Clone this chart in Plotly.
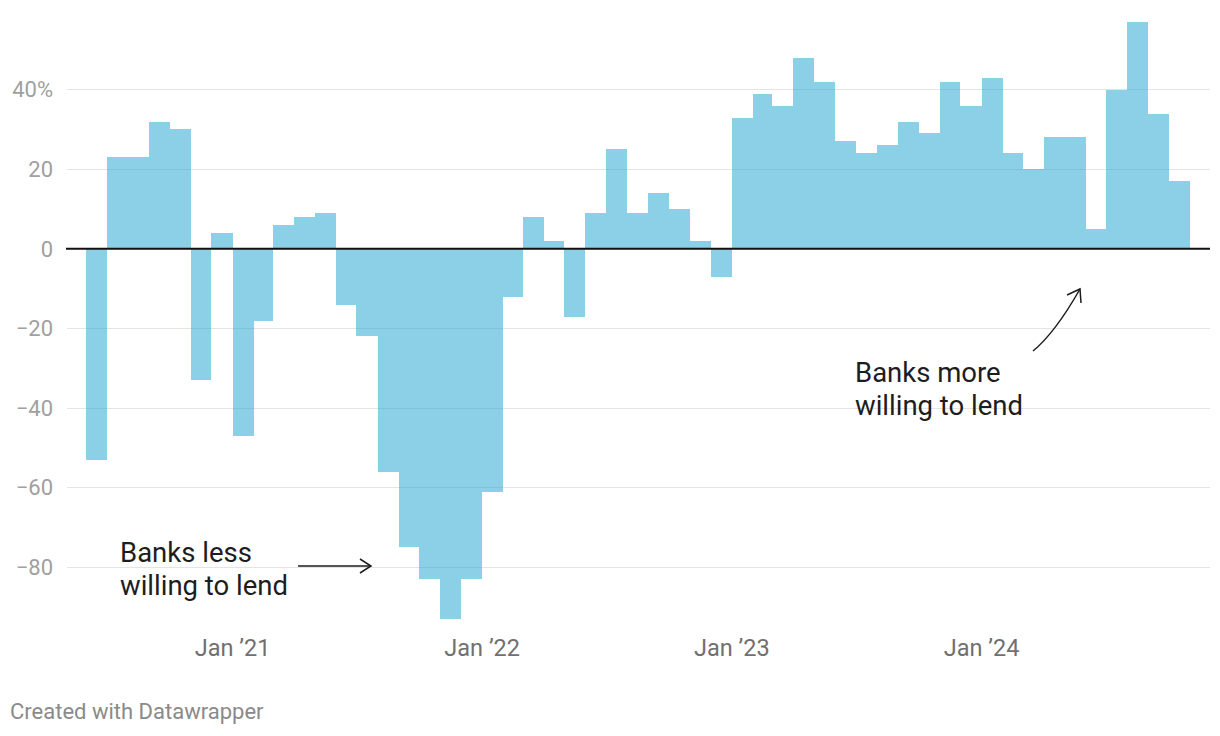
import plotly.graph_objects as go
import pandas as pd

# ---- data ----
months = [
    "2020-06", "2020-07", "2020-08", "2020-09", "2020-10", "2020-11", "2020-12",
    "2021-01", "2021-02", "2021-03", "2021-04", "2021-05", "2021-06", "2021-07",
    "2021-08", "2021-09", "2021-10", "2021-11", "2021-12", "2022-01", "2022-02",
    "2022-03", "2022-04", "2022-05", "2022-06", "2022-07", "2022-08", "2022-09",
    "2022-10", "2022-11", "2022-12", "2023-01", "2023-02", "2023-03", "2023-04",
    "2023-05", "2023-06", "2023-07", "2023-08", "2023-09", "2023-10", "2023-11",
    "2023-12", "2024-01", "2024-02", "2024-03", "2024-04", "2024-05", "2024-06",
    "2024-07", "2024-08", "2024-09", "2024-10",
]
values = [
    -53, 23, 23, 32, 30, -33, 4,
    -47, -18, 6, 8, 9, -14, -22,
    -56, -75, -83, -93, -83, -61, -12,
    8, 2, -17, 9, 25, 9, 14,
    10, 2, -7, 33, 39, 36, 48,
    42, 27, 24, 26, 32, 29, 42,
    36, 43, 24, 20, 28, 28, 5,
    40, 57, 34, 17,
]
y_tick_vals = [-80, -60, -40, -20, 0, 20, 40]
y_tick_text = ["\u221280", "\u221260", "\u221240", "\u221220", "0", "20", "40%"]
x_tick_vals = ["2021-01-01", "2022-01-01", "2023-01-01", "2024-01-01"]
x_tick_text = ["Jan \u201921", "Jan \u201922", "Jan \u201923", "Jan \u201924"]
label_less = ["Banks less", "willing to lend"]
label_more = ["Banks more", "willing to lend"]
footer = "Created with Datawrapper"

# ---- geometry helpers (bars span whole months) ----
starts = pd.to_datetime([m + "-01" for m in months])
ends = starts + pd.offsets.MonthBegin(1)
mids = starts + (ends - starts) / 2
widths = [(e - s).total_seconds() * 1000 for s, e in zip(starts, ends)]

W, H = 1220, 736
L, R, T, B = 67, 10, 22, 117
PW, PH = W - L - R, H - T - B


def px(x):
    return (x - L) / PW


def py(y):
    return (H - B - y) / PH


FONT = "Roboto, Arial, sans-serif"

fig = go.Figure()
fig.add_trace(go.Bar(
    x=mids, y=values, width=widths,
    marker=dict(color="rgba(24,161,205,0.5)",
                line=dict(color="rgba(255,255,255,0)", width=0)),
    hoverinfo="x+y",
))

ink = "#1d1d1d"
shapes = [
    dict(type="line", xref="paper", yref="y", x0=px(66), x1=1, y0=0, y1=0,
         line=dict(color="#111111", width=2), layer="above"),
    # straight arrow
    dict(type="line", xref="paper", yref="paper", x0=px(298), y0=py(566), x1=px(371), y1=py(566),
         line=dict(color=ink, width=1.5)),
    dict(type="path", xref="paper", yref="paper",
         path=f"M {px(360)} {py(559)} L {px(371)} {py(566)} L {px(360)} {py(573)}",
         line=dict(color=ink, width=1.5)),
    # curved arrow
    dict(type="path", xref="paper", yref="paper",
         path=f"M {px(1033)} {py(351)} Q {px(1055)} {py(333)} {px(1080)} {py(289)}",
         line=dict(color=ink, width=1.5)),
    dict(type="path", xref="paper", yref="paper",
         path=f"M {px(1067)} {py(295)} L {px(1080)} {py(289)} L {px(1081)} {py(303)}",
         line=dict(color=ink, width=1.5)),
]

annotations = []
for txt, (x0, y0) in zip(label_less, [(118, 552.5), (118, 585.5)]):
    annotations.append(dict(text=txt, xref="paper", yref="paper", x=px(x0), y=py(y0),
                            xanchor="left", yanchor="middle", align="left", showarrow=False,
                            font=dict(family=FONT, size=27.5, color=ink)))
for txt, (x0, y0) in zip(label_more, [(853, 372.5), (853, 405.5)]):
    annotations.append(dict(text=txt, xref="paper", yref="paper", x=px(x0), y=py(y0),
                            xanchor="left", yanchor="middle", align="left", showarrow=False,
                            font=dict(family=FONT, size=27.5, color=ink)))
annotations.append(dict(text=footer, xref="paper", yref="paper", x=px(8), y=py(712),
                        xanchor="left", yanchor="middle", align="left", showarrow=False,
                        font=dict(family=FONT, size=22, color="#8a8a8a")))

fig.update_layout(
    width=W, height=H, autosize=False,
    margin=dict(l=L, r=R, t=T, b=B, pad=0),
    paper_bgcolor="white", plot_bgcolor="white",
    bargap=0, showlegend=False,
    font=dict(family=FONT),
    shapes=shapes, annotations=annotations,
    xaxis=dict(type="date", range=["2020-05-04", "2024-11-30"],
               tickmode="array", tickvals=x_tick_vals, ticktext=x_tick_text,
               showgrid=False, zeroline=False, showline=False, ticks="",
               ticklabelstandoff=12,
               tickfont=dict(family=FONT, size=23.5, color="#707070")),
    yaxis=dict(range=[-93, 57], tickmode="array", tickvals=y_tick_vals, ticktext=y_tick_text,
               showgrid=True, gridcolor="#e4e4e4", gridwidth=1,
               zeroline=False, showline=False, ticks="", ticklabelstandoff=13,
               tickfont=dict(family=FONT, size=22, color="#a0a0a0")),
)

fig.write_html("out.html")
